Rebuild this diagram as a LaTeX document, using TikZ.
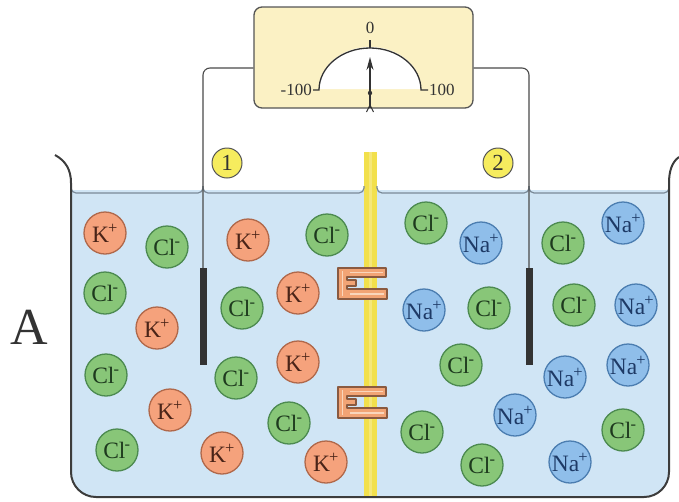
\documentclass[tikz,border=0pt]{standalone}
\usepackage{fontspec}
\setmainfont{Liberation Serif}
\usetikzlibrary{arrows.meta}

\definecolor{waterfill}{HTML}{D0E5F5}
\definecolor{surfline}{HTML}{7A8A98}
\definecolor{glass}{HTML}{3C3C3C}
\definecolor{wirecol}{HTML}{4A4A4A}
\definecolor{membfill}{HTML}{F2E04C}
\definecolor{membhi}{HTML}{F5E779}
\definecolor{chanfill}{HTML}{F2A475}
\definecolor{chanedge}{HTML}{8A5A40}
\definecolor{chanhi}{HTML}{F9D6BC}
\definecolor{kfill}{HTML}{F5A27C}
\definecolor{kedge}{HTML}{B0684A}
\definecolor{ktext}{HTML}{4A2418}
\definecolor{clfill}{HTML}{88C678}
\definecolor{cledge}{HTML}{4C8A50}
\definecolor{cltext}{HTML}{1E3A1E}
\definecolor{nafill}{HTML}{8FBEEA}
\definecolor{naedge}{HTML}{4B7DB0}
\definecolor{natext}{HTML}{1E3A66}
\definecolor{meterfill}{HTML}{FBF1C4}
\definecolor{meteredge}{HTML}{555555}
\definecolor{labfill}{HTML}{F6EC5E}
\definecolor{inkgray}{HTML}{333333}

\newcommand\ionsize{\fontsize{23.5}{23.5}\selectfont}
\newcommand\scalesize{\fontsize{17}{17}\selectfont}
\newcommand\ionsup[1]{\kern-0.8pt\textsuperscript{#1}}

\tikzset{
  ion/.style={circle, minimum size=42pt, inner sep=0pt, line width=1.3pt, font=\ionsize},
  kion/.style={ion, draw=kedge, fill=kfill, text=ktext},
  clion/.style={ion, draw=cledge, fill=clfill, text=cltext},
  naion/.style={ion, draw=naedge, fill=nafill, text=natext},
  electrode/.style={rectangle, fill=inkgray, minimum width=7pt, minimum height=97pt, inner sep=0pt},
  wire/.style={draw=wirecol, line width=1.1pt, rounded corners=7pt},
  beaker/.style={draw=glass, line width=2pt},
  surface/.style={draw=surfline, line width=1.2pt, rounded corners=5pt},
  meterbox/.style={rectangle, rounded corners=8pt, draw=meteredge, fill=meterfill,
    line width=1.3pt, minimum width=219pt, minimum height=101pt},
  numlabel/.style={circle, draw=meteredge, fill=labfill, line width=1pt,
    minimum size=30pt, inner sep=0pt, text=inkgray, font=\fontsize{23}{23}\selectfont},
  dialline/.style={draw=inkgray, line width=1.3pt},
  channel/.pic={
    \draw[fill=chanfill, draw=chanedge, line width=1.2pt, line join=round]
      (0,0) -- (48,0) -- (48,9) -- (9,9) -- (9,12) -- (18,12) -- (18,18)
      -- (9,18) -- (9,21) -- (49,21) -- (49,31) -- (0,31) -- cycle;
    \draw[chanhi, line width=1.6pt] (12,4.5) -- (45,4.5);
    \draw[chanhi, line width=1.6pt] (12,26) -- (46,26);
    \draw[chanhi, line width=1.2pt] (4.5,3) -- (4.5,28);
  }
}

\begin{document}
\begin{tikzpicture}[x=1pt, y=-1pt]
\useasboundingbox (0,0) rectangle (679,501);

% water in the beaker
\fill[waterfill] (71,190) -- (71,472) arc[start angle=180, end angle=270, radius=25pt]
  -- (644,497) arc[start angle=270, end angle=360, radius=25pt] -- (669,190) -- cycle;

% membrane dividing the two solutions
\fill[membfill] (364,152) rectangle (377,497);
\fill[membhi] (369,152) rectangle (372,497);

% water surface, rising to meet walls, wires and membrane
\draw[surface] (71,186) -- (71,193) -- (203,193) -- (203,186);
\draw[surface] (203,186) -- (203,193) -- (364,193) -- (364,186);
\draw[surface] (377,186) -- (377,193) -- (529,193) -- (529,186);
\draw[surface] (529,186) -- (529,193) -- (669,193) -- (669,186);

% beaker glass
\draw[beaker] (55,155) .. controls (66,161) and (71,170) .. (71,183)
  -- (71,472) arc[start angle=180, end angle=270, radius=25pt]
  -- (644,497) arc[start angle=270, end angle=360, radius=25pt]
  -- (669,183) .. controls (669,171) and (672,162) .. (679,157);

% voltmeter
\node[meterbox] (meter) at (363.5,57.5) {};
\fill[white] (319,89) arc[start angle=180, end angle=0, x radius=51pt, y radius=42pt] -- cycle;
\draw[dialline] (313,90) -- (319,90) arc[start angle=180, end angle=0, x radius=51pt, y radius=42pt] -- (428,90);
\draw[dialline] (370,48) -- (370,40);
\node[text=inkgray, font=\scalesize] (zero) at (370,28) {0};
\node[text=inkgray, font=\scalesize, anchor=east, inner sep=1pt] (minus) at (313,90) {-100};
\node[text=inkgray, font=\scalesize, anchor=west, inner sep=1pt] (plus) at (428,90) {100};
\draw[inkgray, line width=1.3pt, -{Stealth[length=13pt, width=7pt]}] (370,108) -- (370,57);
\fill[inkgray] (370,93) circle[radius=2.2pt];
\draw[inkgray, line width=1pt] (366.5,112) -- (370,105) -- (373.5,112);

% electrodes and leads
\node[electrode] (el1) at (203,316.5) {};
\node[electrode] (el2) at (529,316.5) {};
\draw[wire] ([yshift=-10.5pt]meter.west) -| (el1.north);
\draw[wire] ([yshift=-10.5pt]meter.east) -| (el2.north);

\node[numlabel] (lab1) at (227,163) {1};
\node[numlabel] (lab2) at (498,163) {2};

% ion channels in the membrane
\pic at (338,268) {channel};
\pic at (338,387) {channel};

% compartment 1, left of electrode
\node[kion]  (k1)  at (105,233) {K\ionsup{+}};
\node[clion] (c1)  at (167,247) {Cl\ionsup{-}};
\node[clion] (c2)  at (105,293) {Cl\ionsup{-}};
\node[kion]  (k2)  at (157,328) {K\ionsup{+}};
\node[clion] (c3)  at (106,375) {Cl\ionsup{-}};
\node[kion]  (k3)  at (170,410) {K\ionsup{+}};
\node[clion] (c4)  at (117,450) {Cl\ionsup{-}};

% compartment 1, right of electrode
\node[kion]  (k4)  at (248,240) {K\ionsup{+}};
\node[clion] (c5)  at (327,235) {Cl\ionsup{-}};
\node[clion] (c6)  at (242,308) {Cl\ionsup{-}};
\node[kion]  (k5)  at (298,293) {K\ionsup{+}};
\node[kion]  (k6)  at (298,362) {K\ionsup{+}};
\node[clion] (c7)  at (236,378) {Cl\ionsup{-}};
\node[clion] (c8)  at (289,423) {Cl\ionsup{-}};
\node[kion]  (k7)  at (222,453) {K\ionsup{+}};
\node[kion]  (k8)  at (326,462) {K\ionsup{+}};

% compartment 2, left of electrode
\node[clion] (c9)  at (426,223) {Cl\ionsup{-}};
\node[naion] (n1)  at (481,243) {Na\ionsup{+}};
\node[naion] (n2)  at (424,310) {Na\ionsup{+}};
\node[clion] (c10) at (489,308) {Cl\ionsup{-}};
\node[clion] (c11) at (461,365) {Cl\ionsup{-}};
\node[naion] (n3)  at (515,415) {Na\ionsup{+}};
\node[clion] (c12) at (422,432) {Cl\ionsup{-}};
\node[clion] (c13) at (482,465) {Cl\ionsup{-}};

% compartment 2, right of electrode
\node[clion] (c14) at (563,243) {Cl\ionsup{-}};
\node[naion] (n4)  at (623,223) {Na\ionsup{+}};
\node[clion] (c15) at (574,305) {Cl\ionsup{-}};
\node[naion] (n5)  at (636,305) {Na\ionsup{+}};
\node[naion] (n6)  at (565,377) {Na\ionsup{+}};
\node[naion] (n7)  at (628,365) {Na\ionsup{+}};
\node[clion] (c16) at (623,430) {Cl\ionsup{-}};
\node[naion] (n8)  at (570,462) {Na\ionsup{+}};

% panel letter
\node[text=inkgray, font=\fontsize{52}{52}\selectfont] (panel) at (29,327) {A};
\end{tikzpicture}
\end{document}
